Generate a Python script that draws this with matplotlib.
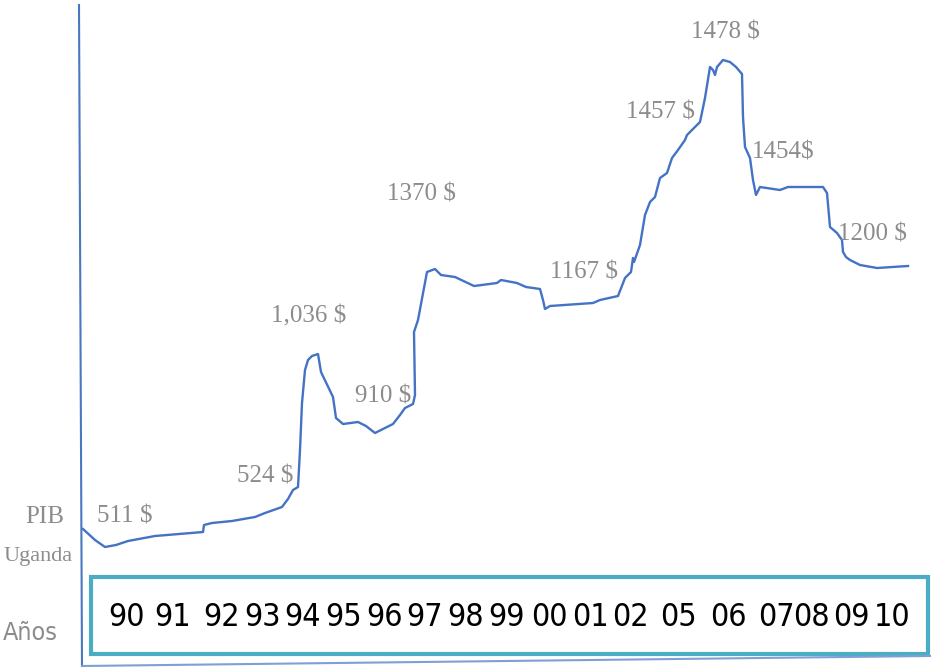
import matplotlib
matplotlib.use("Agg")
import matplotlib.pyplot as plt
from matplotlib import font_manager
from matplotlib.patches import Rectangle

# GDP trace (x = horizontal position, y = height, pixel units)
line_x = [83, 95, 105, 116, 128, 155, 203, 204, 212, 232, 255, 265, 282, 288, 293, 298, 300,
          302, 305, 308, 312, 318, 321, 333, 336, 343, 358, 366, 375, 393, 400, 405, 413, 415,
          414, 418, 427, 435, 441, 455, 474, 497, 501, 517, 526, 540, 543, 545,
          550, 593, 600, 618, 625, 631, 633, 634, 640, 645, 650, 655, 660, 667,
          672, 678, 685, 687, 700, 705, 710, 713, 715, 717, 723, 730, 736, 742, 743, 745,
          750, 753, 756, 760, 780, 788, 823, 827, 830, 837, 842, 843, 846, 850, 860, 877, 908]
line_y = [529, 540, 547, 545, 541, 536, 532, 525, 523, 521, 517, 513, 507, 499, 490, 487, 450,
          403, 370, 360, 356, 354, 372, 397, 418, 424, 422, 426, 433, 424, 415, 408, 404, 395,
          332, 320, 272, 269, 275, 277, 286, 283, 280, 283, 287, 289, 300, 309,
          306, 303, 300, 296, 278, 272, 258, 262, 245, 215, 202, 197, 178, 173,
          158, 150, 140, 135, 122, 98, 67, 70, 75, 67, 60, 62, 67, 74, 117, 147,
          158, 180, 195, 187, 190, 187, 187, 193, 227, 233, 240, 252, 257, 260, 265, 268, 266]

# value labels and where they sit
value_labels = ["511 $", "524 $", "1,036 $", "910 $", "1370 $", "1167 $",
                "1457 $", "1478 $", "1454$", "1200 $"]
value_x = [125, 265, 309, 383, 421, 584, 660, 725, 783, 872]
value_y = [517, 477, 316, 397, 195, 273, 113, 32, 153, 234]

# year labels in the box
years = ["90", "91", "92", "93", "94", "95", "96", "97", "98", "99", "00",
         "01", "02", "05", "06", "07", "08", "09", "10"]
year_x = [127, 173, 222, 262, 303, 344, 384, 425, 466, 507, 549, 590, 630,
          678, 728, 776, 811, 851, 892]

fonts = font_manager.fontManager.ttflist
names = {f.name for f in fonts}
stretch = "normal"
if "Liberation Sans Narrow" in names:
    sans = "Liberation Sans Narrow"
    year_size = 24
elif any(f.name == "DejaVu Sans" and f.stretch == "condensed" for f in fonts):
    sans = "DejaVu Sans"
    stretch = "condensed"
    year_size = 23
else:
    sans = "Liberation Sans"
    year_size = 22

gray = "#8c8c8c"
serif = "Liberation Serif"
lab_size = 18

fig = plt.figure(figsize=(9.31, 6.69), dpi=100)
ax = fig.add_axes([0, 0, 1, 1])
ax.set_xlim(0, 931)
ax.set_ylim(669, 0)
ax.axis("off")

# axis lines
ax.plot([79, 82], [5, 666], color="#4a78bf", lw=1.5)
ax.plot([82, 930], [666, 656], color="#7fa0d4", lw=1.5)

# year box
ax.add_patch(Rectangle((91, 577), 837, 77, fill=False, edgecolor="#4bacc6", lw=3))

ax.plot(line_x, line_y, color="#4472c4", lw=1.7)

for t, x, y in zip(value_labels, value_x, value_y):
    ax.text(x, y, t, ha="center", va="center", color=gray, family=serif, fontsize=lab_size)

for t, x in zip(years, year_x):
    ax.text(x, 617, t, ha="center", va="center", color="black", family=sans,
            fontstretch=stretch, fontsize=year_size)

ax.text(45, 517, "PIB", ha="center", va="center", color=gray, family=serif, fontsize=lab_size)
ax.text(38, 556, "Uganda", ha="center", va="center", color=gray, family=serif, fontsize=16)
ax.text(30, 633, "Años", ha="center", va="center", color=gray, family=sans,
        fontstretch=stretch, fontsize=lab_size)

fig.savefig("out.png", dpi=100)
